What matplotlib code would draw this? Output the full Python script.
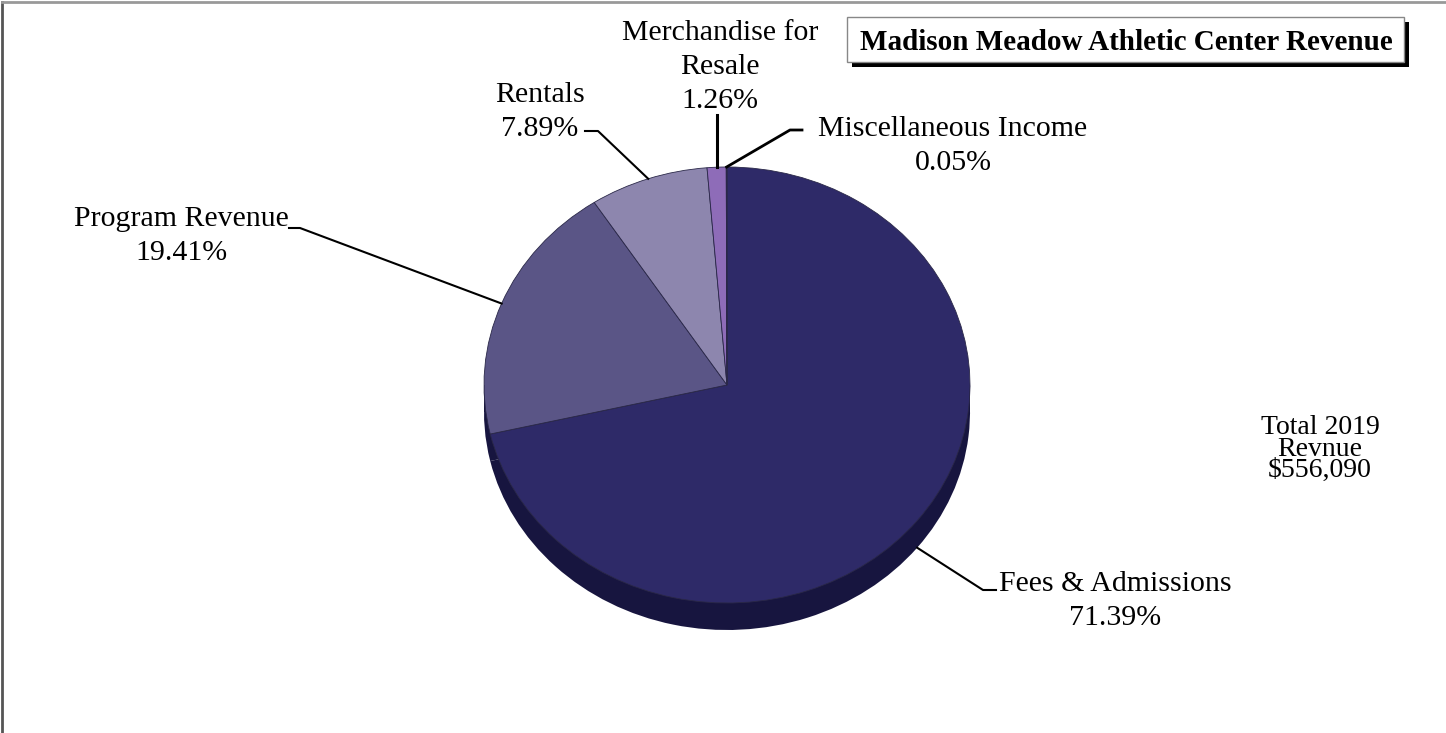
import matplotlib
matplotlib.use("Agg")
import matplotlib.pyplot as plt
from matplotlib.patches import Rectangle
import numpy as np

# revenue shares, clockwise from 12 o'clock
categories = ["Fees & Admissions", "Program Revenue", "Rentals",
              "Merchandise for\nResale", "Miscellaneous Income"]
shares = [71.39, 19.41, 7.89, 1.26, 0.05]
total_label = "Total 2019\nRevnue\n$556,090"
title = "Madison Meadow Athletic Center Revenue"

top_colors = ["#2e2a68", "#5a5586", "#8d86ae", "#8e6cb8", "#5b4a8a"]
side_color = "#17153f"

W, H = 1446, 733
fig = plt.figure(figsize=(W / 100, H / 100), dpi=100)
fig.patch.set_facecolor("white")

plt.rcParams["font.family"] = ["Liberation Serif", "DejaVu Serif"]

# pie axes: x unit = 243 px, y unit = 218 px (tilted look)
cx, cy, rx, ry = 727, 385, 243, 218
depth = 27 / ry
ylo = -1.4
ax = fig.add_axes([(cx - rx) / W, (H - (cy - ry + (1 - ylo) * ry)) / H,
                   2 * rx / W, (1 - ylo) * ry / H])

# side of the disc
ax.fill_between([-1, 1], [-depth, -depth], [0, 0], color=side_color, lw=0)
ax.pie(shares, colors=[side_color] * len(shares), startangle=90,
       counterclock=False, center=(0, -depth), radius=1, frame=True,
       wedgeprops=dict(linewidth=0))
# top face
wedges, _ = ax.pie(shares, colors=top_colors, startangle=90, counterclock=False,
                   radius=1, frame=True,
                   wedgeprops=dict(linewidth=0.6, edgecolor="#2a2848"))
ax.set_aspect("auto")
ax.set_xlim(-1, 1)
ax.set_ylim(ylo, 1)
ax.axis("off")

# overlay in pixel coordinates for labels, leaders and frame
ov = fig.add_axes([0, 0, 1, 1], zorder=5)
ov.set_xlim(0, W)
ov.set_ylim(H, 0)
ov.axis("off")
ov.patch.set_alpha(0)


def to_px(x, y):
    return ov.transData.inverted().transform(ax.transData.transform((x, y)))


def anchor(w, dy=0.0):
    ang = np.deg2rad((w.theta1 + w.theta2) / 2)
    return to_px(np.cos(ang), np.sin(ang) + dy)


txt = dict(fontsize=21.5, color="black", ha="center", va="center",
           linespacing=1.38)
lw = 1.5

# Fees & Admissions
p = anchor(wedges[0], -depth)
ov.plot([p[0], 983, 996], [p[1], 590, 590], color="black", lw=lw)
ov.text(1115, 601, f"{categories[0]}\n{shares[0]:.2f}%", **txt)

# Program Revenue
p = anchor(wedges[1])
ov.plot([p[0], 300, 289], [p[1], 228, 228], color="black", lw=lw)
ov.text(181, 236, f"{categories[1]}\n{shares[1]:.2f}%", **txt)

# Rentals
p = anchor(wedges[2])
ov.plot([p[0], 598, 585], [p[1], 131, 131], color="black", lw=lw)
ov.text(540, 112, f"{categories[2]}\n{shares[2]:.2f}%", **txt)

# Merchandise for Resale
p = anchor(wedges[3])
ov.plot([p[0], p[0]], [p[1], 115], color="black", lw=2.2)
ov.text(720, 67, f"{categories[3]}\n{shares[3]:.2f}%", **txt)

# Miscellaneous Income
p = anchor(wedges[4])
ov.plot([p[0], 790, 802], [p[1], 130, 130], color="black", lw=2)
ov.text(953, 146, f"{categories[4]}\n{shares[4]:.2f}%", **txt)

ov.text(1320, 449, total_label, fontsize=20, ha="center", va="center",
        linespacing=0.8)

# title box with drop shadow
ov.add_patch(Rectangle((852, 22), 557, 45, facecolor="black", lw=0))
ov.add_patch(Rectangle((847, 17), 557, 45, facecolor="white",
                       edgecolor="#888888", lw=1))
ov.text(1126, 42, title, fontsize=21, fontweight="bold", ha="center",
        va="center")

# outer frame
ov.plot([2, 2], [H, 2], color="#555555", lw=2)
ov.plot([2, W], [2, 2], color="#999999", lw=2)

fig.savefig("out.png", dpi=100)
